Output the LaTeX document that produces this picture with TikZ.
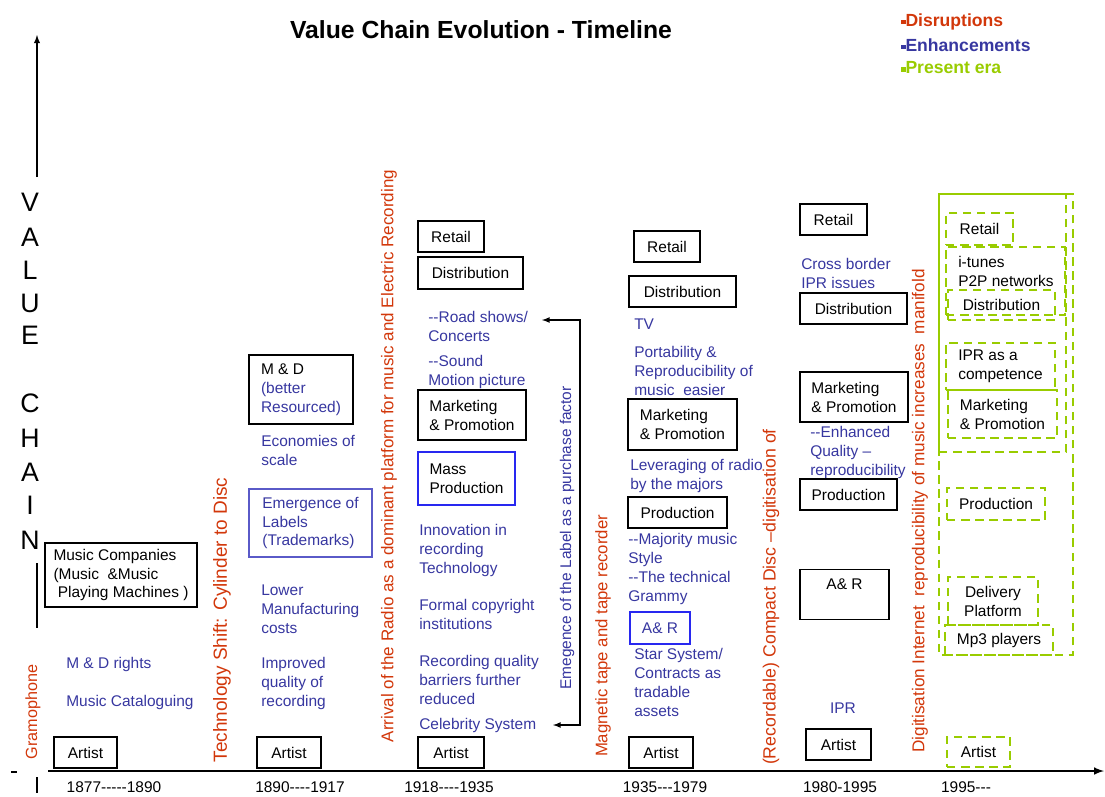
\documentclass[tikz,border=0pt]{standalone}
\usepackage{fontspec}
\setmainfont{Liberation Sans}
\usetikzlibrary{arrows}

\definecolor{disrupt}{RGB}{210,55,10}
\definecolor{enhance}{RGB}{55,55,160}
\definecolor{present}{RGB}{153,204,0}
\definecolor{boxblue}{RGB}{40,40,240}
\definecolor{labelblue}{RGB}{90,90,200}
\newcommand{\unitpx}{0.025cm}

\begin{document}
\begin{tikzpicture}[x=\unitpx,y=-\unitpx,
                    every node/.style={font=\fontsize{11}{13.5}\selectfont},
                    box/.style 2 args={draw,line width=0.9pt,align=left,inner sep=2pt,
                                       minimum width=#1*\unitpx,minimum height=#2*\unitpx},
                    bluebox/.style 2 args={box={#1}{#2},draw=boxblue},
                    gbox/.style 2 args={box={#1}{#2},draw=present,line width=1.6pt,dash pattern=on 6pt off 4pt},
                    note/.style={text=enhance,align=left,anchor=north west,inner sep=0pt},
                    disrtext/.style={text=disrupt,rotate=90,inner sep=0pt,font=\fontsize{#1}{14}\selectfont},
                    disrtext/.default=12,
                    letter/.style={font=\fontsize{19}{22}\selectfont,inner sep=0pt},
                    legitem/.style={anchor=west,inner sep=0pt,font=\bfseries\fontsize{12.5}{15}\selectfont}]
  \useasboundingbox (0,0) rectangle (1105,796);

  % title and legend
  \node[font=\bfseries\fontsize{17.6}{20}\selectfont] (title) at (481,30) {Value Chain Evolution - Timeline};
  \node[legitem,text=disrupt] (leg1) at (901,22) {\raisebox{0.25ex}{\rule{3pt}{3pt}}Disruptions};
  \node[legitem,text=enhance] (leg2) at (901,45) {\raisebox{0.25ex}{\rule{3pt}{3pt}}Enhancements};
  \node[legitem,text=present] (leg3) at (901,68) {\raisebox{0.25ex}{\rule{3pt}{3pt}}Present era};

  % axes
  \draw[->,>=latex,line width=1pt] (37,177) -- (37,35);
  \foreach \ch/\yy in {V/202,A/237,L/270,U/303,E/335,C/403,H/438,A/472,I/505,N/540}
    \node[letter] (vc\yy) at (30,\yy) {\ch};
  \draw[line width=1pt] (37,563) -- (37,628);
  \draw[line width=1pt] (11,772) -- (17,772);
  \draw[line width=1pt] (37,777) -- (37,793);
  \draw[->,>=latex,line width=1.4pt] (48,771) -- (1104,771);

  \node (yr1) at (114,787) {1877-{}-{}-{}-{}-1890};
  \node (yr2) at (300,787) {1890-{}-{}-{}-1917};
  \node (yr3) at (449,787) {1918-{}-{}-{}-1935};
  \node (yr4) at (665,787) {1935-{}-{}-1979};
  \node (yr5) at (840,787) {1980-1995};
  \node (yr6) at (966,787) {1995-{}-{}-};

  % disruptions
  \node[disrtext=11.5] (gram)  at (33,712)  {Gramophone};
  \node[disrtext=13.5] (cyl)   at (222,620) {Technology Shift: Cylinder to Disc};
  \node[disrtext=12.1] (radio) at (389,456) {Arrival of the Radio as a dominant platform for music and Electric Recording};
  \node[disrtext=11.9] (tape)  at (603,636) {Magnetic tape and tape recorder};
  \node[disrtext=12.6] (cd)    at (771,597) {(Recordable) Compact Disc --digitisation of};
  \node[disrtext=12.2] (net)   at (920,511) {Digitisation Internet~ reproducibility of music increases~ manifold};
  \node[disrtext=11,text=enhance] (labelf) at (567,538) {Emegence of the Label as a purchase factor};

  % 1877-1890
  \node[box={152}{64}] (mcomp) at (121,575) {Music Companies\\(Music~~\&Music\\~Playing Machines )};
  \node[note] (mdr) at (66,657) {M \& D rights};
  \node[note] (catal) at (66,695) {Music Cataloguing};
  \node[box={63}{31}] (artist1) at (85.5,752.5) {Artist};

  % 1890-1917
  \node[box={104}{69}] (md2) at (301,389.5) {M \& D\\\textcolor{enhance}{(better}\\\textcolor{enhance}{Resourced)}};
  \node[note] (econ) at (261,435) {Economies of\\scale};
  \node[box={123}{68},draw=labelblue,text=enhance] (labels2) at (310.5,523) {Emergence of\\Labels\\(Trademarks)};
  \node[note] (lower) at (261,585) {Lower\\Manufacturing\\costs};
  \node[note] (improv) at (261,657) {Improved\\quality of\\recording};
  \node[box={64}{31}] (artist2) at (289,752.5) {Artist};

  % 1918-1935
  \node[box={66}{31}] (retail3) at (451,236.5) {Retail};
  \node[box={105}{32}] (dist3) at (470.5,273) {Distribution};
  \node[note] (road) at (428,311) {-{}-Road shows/\\Concerts};
  \node[note] (sound) at (428,355) {-{}-Sound\\Motion picture};
  \node[box={108}{50}] (mkt3) at (472,415) {Marketing\\\& Promotion};
  \node[bluebox={97}{53}] (mass3) at (466.5,478.5) {Mass\\Production};
  \node[note] (innov) at (419,524) {Innovation in\\recording\\Technology};
  \node[note] (copyr) at (419,599) {Formal copyright\\institutions};
  \node[note] (barr) at (419,655) {Recording quality\\barriers further\\reduced};
  \node[note] (celeb) at (419,718) {Celebrity System};
  \node[box={66}{31}] (artist3) at (451,752.5) {Artist};
  \coordinate (roadtip) at (542,320);
  \coordinate (celebtip) at (553,725);
  \draw[<->,>=latex,line width=0.9pt] (roadtip) -- (580,320) -- (580,725) -- (celebtip);

  % 1935-1979
  \node[box={66}{31}] (retail4) at (667,246.5) {Retail};
  \node[box={107}{31}] (dist4) at (682.5,291.5) {Distribution};
  \node[note] (tv) at (634,319) {TV};
  \node[note] (port) at (634,346) {Portability \&\\Reproducibility of\\music~ easier};
  \node[box={109}{51}] (mkt4) at (682.5,424.5) {Marketing\\\& Promotion};
  \node[note] (lever) at (630,459) {Leveraging of radio\\by the majors};
  \node[box={99}{31}] (prod4) at (677.5,512.5) {Production};
  \node[note] (major) at (628,533) {-{}-Majority music\\Style\\-{}-The technical\\Grammy};
  \node[bluebox={60}{32},text=enhance] (ar4) at (660,628) {A\& R};
  \node[note] (star) at (634,648) {Star System/\\Contracts as\\tradable\\assets};
  \node[box={64}{31}] (artist4) at (661,752.5) {Artist};

  % 1980-1995
  \node[box={67}{31}] (retail5) at (833.5,219.5) {Retail};
  \node[note] (cross) at (801,258) {Cross border\\IPR issues};
  \node[box={107}{31}] (dist5) at (853.5,308.5) {Distribution};
  \node[box={108}{50}] (mkt5) at (854,397) {Marketing\\\& Promotion};
  \node[note] (enh) at (810,426) {-{}-Enhanced\\Quality --\\reproducibility};
  \node[box={97}{31}] (prod5) at (848.5,494.5) {Production};
  \node[box={89}{50},align=center,inner ysep=6pt,text depth=15pt,anchor=north] (ar5) at (844.5,569) {A\& R};
  \node[note,anchor=center] (ipr5) at (843,708) {IPR};
  \node[box={65}{31}] (artist5) at (838.5,744.5) {Artist};

  % 1995 onwards
  \draw[present,line width=1.6pt,dash pattern=on 6pt off 4pt] (939,194) rectangle (1073,655);
  \draw[present,line width=1.6pt,dash pattern=on 6pt off 4pt] (939,452) -- (1066,452) -- (1066,194);
  \draw[present,line width=1.4pt] (939,452) -- (939,194) -- (1073,194);
  \node[gbox={67}{32}] (retail6) at (979.5,229) {Retail};
  \node[gbox={119}{68}] (itunes6) at (1005.5,281) {};
  \node[anchor=north west,inner sep=0pt,align=left] (p2p) at (958,256) {i-tunes\\P2P networks};
  \node[gbox={107}{30}] (dist6) at (1001.5,305) {Distribution};
  \node[gbox={109}{47}] (ipr6) at (1000.5,366.5) {IPR as a\\competence};
  \node[gbox={109}{48}] (mkt6) at (1002.5,414) {Marketing\\\& Promotion};
  \node[gbox={98}{32}] (prod6) at (996,504) {Production};
  \node[gbox={90}{48},align=center] (deliv6) at (993,601) {Delivery\\Platform};
  \node[gbox={108}{30}] (mp3) at (999,640) {Mp3 players};
  \node[gbox={63}{30}] (artist6) at (978.5,752) {Artist};
\end{tikzpicture}
\end{document}
